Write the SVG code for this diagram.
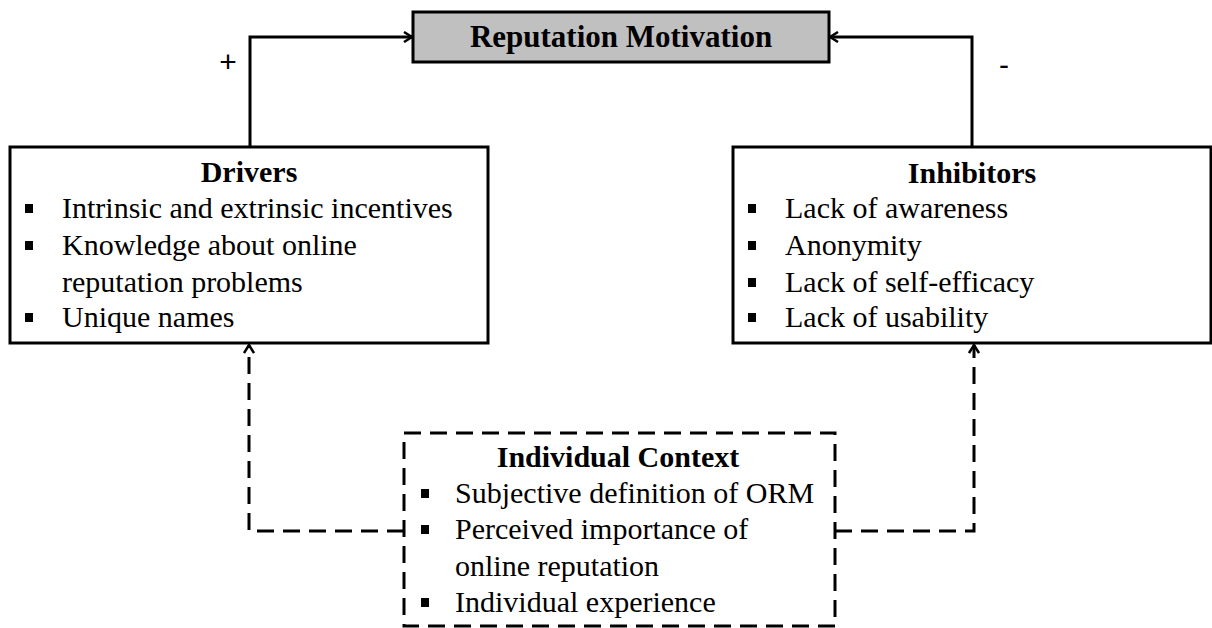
<svg xmlns="http://www.w3.org/2000/svg" width="1212" height="628" viewBox="0 0 1212 628">
<style>
.box{fill:#fff;stroke:#000;stroke-width:3}
.dbox{fill:#fff;stroke:#000;stroke-width:3;stroke-dasharray:17 9}
.t{font-family:"Liberation Serif","Times New Roman",serif;font-size:30px;fill:#000}
.b{font-weight:bold;text-anchor:middle}
.c{fill:none;stroke:#000;stroke-width:3}
.d{stroke-dasharray:17 9}
.sg{font-family:"Liberation Sans",Arial,sans-serif;font-size:30px;text-anchor:middle;fill:#000}
</style>
<defs>
<marker id="ah" viewBox="0 0 12 12" refX="11" refY="6" markerWidth="12" markerHeight="12" markerUnits="userSpaceOnUse" orient="auto">
<path d="M3,1 L11,6 L3,11" fill="none" stroke="#000" stroke-width="2.5"/>
</marker>
<rect id="bul" width="8" height="9" fill="#000"/>
</defs>
<rect width="1212" height="628" fill="#fff"/>
<g id="connectors">
<path class="c" d="M250,147 V37 H412" marker-end="url(#ah)"/>
<path class="c" d="M972,147 V37 H830" marker-end="url(#ah)"/>
<path class="c d" d="M404,531 H249 V345" marker-end="url(#ah)"/>
<path class="c d" d="M835,531 H974 V345" marker-end="url(#ah)"/>
<text class="sg" x="228" y="72">+</text>
<text class="sg" x="1004" y="75">-</text>
</g>
<g id="reputation-motivation">
<rect x="413" y="12" width="416" height="50" fill="#c0c0c0" stroke="#000" stroke-width="3"/>
<text class="t b" x="621" y="47" style="font-size:31px">Reputation Motivation</text>
</g>
<g id="drivers">
<rect class="box" x="10" y="147" width="478" height="196"/>
<text class="t b" x="249" y="182">Drivers</text>
<use href="#bul" x="25" y="204"/>
<text class="t" x="62" y="218">Intrinsic and extrinsic incentives</text>
<use href="#bul" x="25" y="241"/>
<text class="t" x="62" y="255">Knowledge about online</text>
<text class="t" x="62" y="292">reputation problems</text>
<use href="#bul" x="25" y="313"/>
<text class="t" x="62" y="327">Unique names</text>
</g>
<g id="inhibitors">
<rect class="box" x="733" y="147" width="478" height="196"/>
<text class="t b" x="972" y="183">Inhibitors</text>
<use href="#bul" x="748" y="204"/>
<text class="t" x="785" y="218">Lack of awareness</text>
<use href="#bul" x="748" y="241"/>
<text class="t" x="785" y="255">Anonymity</text>
<use href="#bul" x="748" y="278"/>
<text class="t" x="785" y="292">Lack of self-efficacy</text>
<use href="#bul" x="748" y="313"/>
<text class="t" x="785" y="327">Lack of usability</text>
</g>
<g id="individual-context">
<rect class="dbox" x="404" y="433" width="431" height="193"/>
<text class="t b" x="618" y="467">Individual Context</text>
<use href="#bul" x="421" y="489"/>
<text class="t" x="455" y="503">Subjective definition of ORM</text>
<use href="#bul" x="421" y="525"/>
<text class="t" x="455" y="539">Perceived importance of</text>
<text class="t" x="455" y="576">online reputation</text>
<use href="#bul" x="421" y="598"/>
<text class="t" x="455" y="612">Individual experience</text>
</g>
</svg>
